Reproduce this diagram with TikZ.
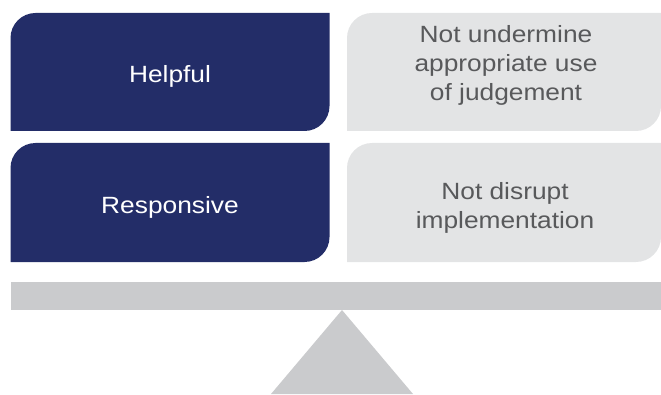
\documentclass[tikz,border=0pt]{standalone}
\usepackage{fontspec}
\setmainfont{Liberation Sans}[FakeStretch=1.12]
\usepackage{xcolor}
\definecolor{valuenavy}{HTML}{232D68}
\definecolor{limitgrey}{HTML}{E3E4E5}
\definecolor{beamgrey}{HTML}{CACBCD}
\definecolor{labelgrey}{HTML}{58595B}

% leaf shaped tab: rounded top left and bottom right corners
\newcommand{\leaftab}[5]{%
  \fill[#5] (#1,#2) -- (#1,#4-25) arc[start angle=180,end angle=90,radius=25pt]
    -- (#3,#4) -- (#3,#2+25) arc[start angle=0,end angle=-90,radius=25pt] -- cycle;}

\begin{document}
\begin{tikzpicture}[x=1pt,y=1pt]
  \tikzset{
    tabtext/.style={inner sep=0pt, align=center, font=\fontsize{23.5}{29}\selectfont},
    valuetext/.style={tabtext, text=white},
    limittext/.style={tabtext, text=labelgrey}
  }
  \useasboundingbox (0,0) rectangle (661,394);

  % the two rows of tabs
  \leaftab{10.5}{263}{329.5}{381}{valuenavy}
  \leaftab{347}{263}{661}{381}{limitgrey}
  \leaftab{10.5}{132}{329.5}{251}{valuenavy}
  \leaftab{347}{132}{661}{251}{limitgrey}

  \node[valuetext] (helpful) at (170,318) {Helpful};
  \node[limittext] (judgement) at (506,329) {Not undermine\\appropriate use\\of judgement};
  \node[valuetext] (responsive) at (170,187) {Responsive};
  \node[limittext] (implement) at (505,186) {Not disrupt\\implementation};

  % balance beam and pivot
  \fill[beamgrey] (10.5,84) rectangle (661,112);
  \coordinate (pivot) at (342,84);
  \fill[beamgrey] (pivot) -- (413,0) -- (271,0) -- cycle;
\end{tikzpicture}
\end{document}
